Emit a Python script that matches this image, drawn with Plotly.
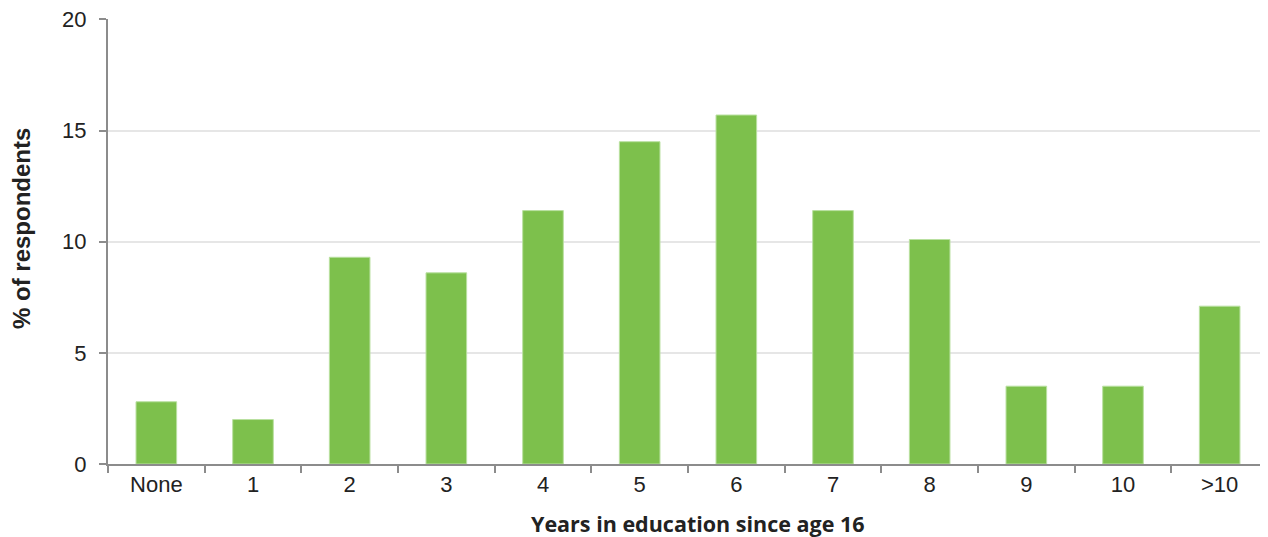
import plotly.graph_objects as go

categories = ["None", "1", "2", "3", "4", "5", "6", "7", "8", "9", "10", ">10"]
values = [2.8, 2.0, 9.3, 8.6, 11.4, 14.5, 15.7, 11.4, 10.1, 3.5, 3.5, 7.1]
y_ticks = [0, 5, 10, 15, 20]

fig = go.Figure()
fig.add_trace(go.Bar(
    x=categories, y=values,
    marker=dict(color="#7dc04c", line=dict(color="#b9e0a0", width=1)),
    width=0.42,
))

fig.update_layout(
    width=1260, height=529,
    margin=dict(l=100, r=0, t=11, b=73),
    paper_bgcolor="white", plot_bgcolor="white",
    showlegend=False,
    font=dict(family="Liberation Sans, Arial, sans-serif", size=22, color="#222222"),
    annotations=[
        dict(text="<b>Years in education since age 16</b>", xref="paper", yref="paper",
             x=0.509, y=0, yshift=-59, xanchor="center", yanchor="middle", showarrow=False,
             font=dict(family="Open Sans, Noto Sans, sans-serif", size=21.5, color="#222222")),
        dict(text="<b>% of respondents</b>", xref="paper", yref="paper",
             x=0, xshift=-87, y=0.528, xanchor="center", yanchor="middle", showarrow=False,
             textangle=-90,
             font=dict(family="Liberation Sans, Arial, sans-serif", size=24, color="#222222")),
    ],
)
fig.update_xaxes(
    type="category",
    showline=True, linecolor="#8c8c8c", linewidth=2,
    ticks="outside", tickson="boundaries", ticklen=7, tickwidth=2, tickcolor="#8c8c8c",
    showgrid=False, automargin=False,
    tickfont=dict(size=22, color="#222222"),
)
fig.update_yaxes(
    range=[0, 20.02], tickvals=y_ticks,
    showline=True, linecolor="#8c8c8c", linewidth=2,
    ticks="outside", ticklen=7, tickwidth=2, tickcolor="#8c8c8c",
    showgrid=True, gridcolor="#e6e6e6", gridwidth=1.5,
    zeroline=False, automargin=False,
    tickfont=dict(size=22, color="#222222"),
    ticklabelstandoff=8,
    ticklabeloverflow="allow",
)

fig.write_html("out.html")
